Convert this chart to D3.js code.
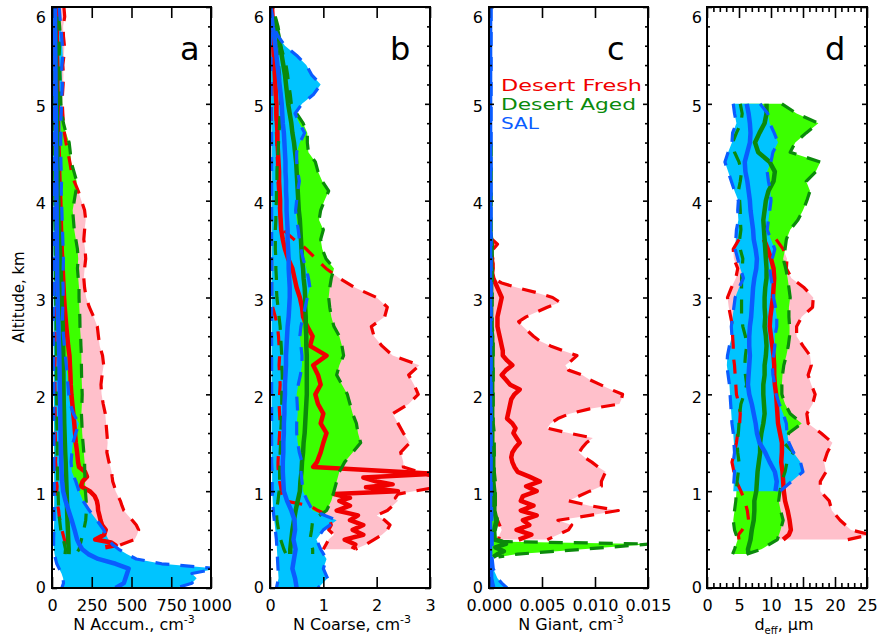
<!DOCTYPE html>
<html>
<head>
<meta charset="utf-8">
<script src="https://cdn.jsdelivr.net/npm/d3@7"></script>
<style>
  body { margin: 0; background: #fff; }
  svg { display: block; }
  text { font-family: "DejaVu Sans", "Liberation Sans", sans-serif; }
</style>
</head>
<body>
<svg id="chart" width="878" height="637"></svg>
<script>
// ---------------------------------------------------------------
// Vertical profiles (altitude, km) of aerosol properties for three
// air-mass types. For each type: lower bound, median, upper bound.
// ---------------------------------------------------------------

// ---- Panel a: accumulation-mode number concentration, cm^-3 ----
const accFreshAlt = [6.0,5.9,5.8,5.7,5.6,5.5,5.4,5.3,5.2,5.1,5.0,4.9,4.8,4.7,4.6,4.5,4.4,4.3,4.2,4.1,4.0,3.9,3.8,3.7,3.6,3.5,3.4,3.3,3.2,3.1,3.0,2.9,2.8,2.7,2.6,2.5,2.4,2.3,2.2,2.1,2.0,1.9,1.8,1.7,1.6,1.5,1.4,1.3,1.25,1.2,1.15,1.1,1.05,1.0,0.95,0.9,0.85,0.8,0.75,0.7,0.65,0.6,0.55,0.5,0.47,0.44,0.42];
const accFreshLo  = [12,10,14,12,10,12,14,12,10,12, 14,12,12,14,12,14,16,14,12,14, 16,14,12,14,16,14,12,14,16,14, 16,18,16,18,20,18,20,18,20,18, 20,18,20,22,20,22,24,22, 25,28,26,28,32,30,34,38,36,42,45,50,55,62,70,78,85,90,88];
const accFreshMed = [32,30,32,30,32,31,33,34,33,35, 36,37,38,38,40,42,44,45,47,49, 52,54,55,57,59,61,64,67,70,73, 76,80,85,90,96,102,110,113,116,118, 122,128,134,140,145,150,158,164, 170,208,220,192,182,238,268,282,288,290,298,305,315,338,328,272,372,400,335];
const accFreshHi  = [75,80,70,72,78,75,68,72,70,66, 65,68,72,78,88,100,112,122,140,165, 185,205,212,205,200,208,212,205,200,205, 215,235,262,285,292,300,318,325,315,308, 312,322,335,340,345,350,345,358, 368,375,378,382,392,400,415,430,440,452,478,505,530,545,535,520,470,420,390];

const agedAlt = [5.9,5.8,5.7,5.6,5.5,5.4,5.3,5.2,5.1,5.0,4.9,4.8,4.7,4.6,4.5,4.4,4.3,4.2,4.1,4.0,3.9,3.8,3.7,3.6,3.5,3.4,3.3,3.2,3.1,3.0,2.9,2.8,2.7,2.6,2.5,2.4,2.3,2.2,2.1,2.0,1.9,1.8,1.7,1.6,1.5,1.4,1.3,1.2,1.1,1.0,0.9,0.8,0.7,0.6,0.5,0.4,0.35];
const accAgedLo  = [8,10,9,10,11,10,12,11,12,13, 12,14,13,15,16,15,17,18,17,18, 19,18,20,21,20,22,21,22,24,23, 24,25,26,25,27,28,27,28,30,29, 30,31,30,32,33,32,34,35,36,38, 40,42,48,55,72,85,82];
const accAgedMed = [20,22,23,24,25,26,27,28,29,30, 31,32,33,34,35,36,37,38,39,40, 42,44,46,48,50,52,54,56,58,60, 62,65,68,69,70,71,71,72,72,73, 74,76,77,79,81,83,86,88,90,92, 94,95,97,100,102,105,104];
const accAgedHi  = [42,48,52,48,45,48,50,52,54,56, 62,72,88,108,115,120,138,155,150,140, 130,135,140,150,160,165,160,165,170,170, 172,175,176,180,182,185,185,186,188,190, 188,185,188,190,195,200,205,206,208,210, 215,216,212,200,185,170,150];

const accSalAlt = [6.0,5.9,5.8,5.7,5.6,5.5,5.4,5.3,5.2,5.1,5.0,4.9,4.8,4.7,4.6,4.5,4.4,4.3,4.2,4.1,4.0,3.9,3.8,3.7,3.6,3.5,3.4,3.3,3.2,3.1,3.0,2.9,2.8,2.7,2.6,2.5,2.4,2.3,2.2,2.1,2.0,1.9,1.8,1.7,1.6,1.5,1.4,1.3,1.2,1.1,1.0,0.9,0.8,0.7,0.6,0.5,0.45,0.4,0.35,0.3,0.25,0.2,0.15,0.1,0.05,0.0];
const accSalLo  = [3,4,3,4,5,4,5,4,5,6, 5,6,5,6,7,6,7,6,7,8, 7,8,7,8,9,8,9,8,9,10, 9,10,9,10,11,10,11,10,11,12, 11,12,11,12,13,12,13,12,13,14, 13,14,13,14,12,10, 10,12,16,22,30,45,60,70,72,62];
const accSalMed = [18,19,19,20,20,21,21,22,22,23, 23,24,24,25,25,26,26,27,27,28, 28,29,29,30,30,31,32,32,33,34, 35,36,38,40,42,44,46,47,48,49, 50,51,52,53,54,55,57,58,60,64, 70,85,104,124,142,158, 172,190,228,290,400,482,472,462,452,400];
const accSalHi  = [45,50,55,60,65,68,62,60,65,62, 60,58,55,56,55,55,56,58,60,58, 60,62,64,66,68,70,72,70,68,70, 70,68,66,68,72,78,84,90,96,100, 105,115,135,170,150,132,125,120,125,150, 170,195,235,282,325,355, 380,420,470,530,690,1040,880,910,880,780];

// ---- Panel b: coarse-mode number concentration, cm^-3 ----
const coaFreshAlt = [6.0,5.9,5.8,5.7,5.6,5.5,5.4,5.3,5.2,5.1,5.0,4.9,4.8,4.7,4.6,4.5,4.4,4.3,4.2,4.1,4.0,3.9,3.8,3.7,3.6,3.5,3.4,3.3,3.2,3.1,3.0,2.9,2.8,2.7,2.6,2.5,2.4,2.3,2.2,2.1,2.0,1.9,1.8,1.7,1.6,1.5,1.4,1.3,1.25,1.18,1.14,1.1,1.07,1.04,1.0,0.97,0.93,0.9,0.85,0.8,0.75,0.7,0.65,0.6,0.55,0.5,0.45,0.4];
const coaFreshLo  = [0.02,0.02,0.02,0.02,0.02,0.02,0.02,0.02,0.02,0.02, 0.02,0.02,0.02,0.02,0.02,0.02,0.02,0.02,0.02,0.02, 0.02,0.02,0.02,0.02,0.02,0.02,0.03,0.03,0.03,0.03, 0.03,0.05,0.1,0.14,0.16,0.17,0.18,0.17,0.18,0.19, 0.18,0.17,0.18,0.19,0.18,0.17,0.16,0.15, 0.15,0.16,0.17,0.18,0.19,0.2,0.21,0.22,0.24,0.26,0.75,0.9,1.1,1.12,1.15,1.1,1.2,1.1,1.05,1.0];
const coaFreshMed = [0.02,0.03,0.04,0.05,0.06,0.07,0.08,0.09,0.1,0.11, 0.12,0.12,0.13,0.14,0.14,0.15,0.16,0.17,0.17,0.18, 0.19,0.19,0.2,0.21,0.24,0.28,0.34,0.42,0.46,0.5, 0.56,0.6,0.62,0.7,0.8,0.75,1.06,0.81,0.9,0.95, 0.85,0.9,1.0,0.95,1.06,1.0,0.95,0.88, 0.81,3.1,1.75,2.0,2.3,1.8,2.4,1.2,1.5,1.3,1.5,1.25,1.65,1.5,1.75,1.55,1.75,1.4,1.6,1.55];
const coaFreshHi  = [0.05,0.06,0.06,0.07,0.08,0.08,0.09,0.09,0.1,0.1, 0.11,0.11,0.12,0.12,0.13,0.13,0.14,0.14,0.15,0.16, 0.17,0.18,0.2,0.24,0.45,0.68,0.86,1.05,1.3,1.6, 2.0,2.2,2.15,1.9,1.95,2.1,2.3,2.8,2.6,2.7, 2.78,2.6,2.3,2.4,2.5,2.62,2.45,2.5, 2.5,2.9,3.1,3.1,3.1,3.1,2.7,2.4,2.35,2.4,2.3,2.2,2.0,2.15,2.25,2.2,2.1,1.95,1.8,1.6];

const coaAgedLo  = [0.05,0.08,0.1,0.12,0.15,0.16,0.18,0.18,0.2,0.2, 0.19,0.18,0.17,0.16,0.15,0.14,0.13,0.13,0.12,0.12, 0.11,0.11,0.1,0.1,0.1,0.11,0.11,0.12,0.12,0.13, 0.15,0.17,0.19,0.2,0.21,0.22,0.22,0.23,0.23,0.22, 0.22,0.21,0.21,0.2,0.2,0.19,0.19,0.18,0.18,0.17, 0.15,0.12,0.13,0.16,0.2,0.26,0.3];
const coaAgedMed = [0.08,0.12,0.16,0.19,0.22,0.25,0.28,0.3,0.32,0.34, 0.37,0.4,0.42,0.45,0.47,0.49,0.5,0.51,0.52,0.53, 0.54,0.56,0.57,0.58,0.59,0.6,0.62,0.63,0.65,0.66, 0.66,0.67,0.67,0.68,0.68,0.69,0.69,0.69,0.69,0.69, 0.68,0.67,0.66,0.65,0.63,0.62,0.6,0.59,0.57,0.56, 0.52,0.48,0.45,0.42,0.4,0.38,0.38];
const coaAgedHi  = [0.1,0.15,0.18,0.2,0.25,0.3,0.33,0.35,0.38,0.4, 0.5,0.62,0.7,0.7,0.72,0.85,0.9,0.98,1.1,1.02, 0.95,0.92,1.0,0.95,0.98,1.05,1.2,1.15,1.12,1.1, 1.12,1.15,1.2,1.3,1.35,1.38,1.3,1.25,1.35,1.45, 1.5,1.55,1.62,1.65,1.7,1.55,1.4,1.3,1.25,1.2, 1.15,1.06,0.8,0.78,0.75,0.8,0.8];

const coaSalAlt = [6.0,5.9,5.8,5.7,5.6,5.5,5.4,5.3,5.2,5.1,5.0,4.9,4.8,4.7,4.6,4.5,4.4,4.3,4.2,4.1,4.0,3.9,3.8,3.7,3.6,3.5,3.4,3.3,3.2,3.1,3.0,2.9,2.8,2.7,2.6,2.5,2.4,2.3,2.2,2.1,2.0,1.9,1.8,1.7,1.6,1.5,1.4,1.3,1.2,1.1,1.0,0.9,0.8,0.7,0.6,0.5,0.4,0.3,0.2,0.1,0.0];
const coaSalLo  = [0,0,0.01,0.01,0.01,0.02,0.02,0.02,0.02,0.02, 0.02,0.02,0.02,0.03,0.03,0.03,0.03,0.03,0.03,0.03, 0.03,0.03,0.03,0.03,0.03,0.03,0.03,0.03,0.03,0.03, 0.03,0.03,0.03,0.03,0.03,0.03,0.03,0.03,0.03,0.03, 0.03,0.03,0.03,0.03,0.03,0.03,0.03,0.03,0.04,0.04, 0.04,0.05,0.06,0.08,0.1,0.12,0.13,0.14,0.15,0.16,0.12];
const coaSalMed = [0,0.03,0.05,0.08,0.1,0.12,0.14,0.16,0.18,0.2, 0.22,0.23,0.24,0.26,0.27,0.28,0.29,0.29,0.3,0.3, 0.31,0.31,0.32,0.33,0.33,0.34,0.35,0.35,0.36,0.37, 0.37,0.36,0.35,0.33,0.32,0.31,0.3,0.3,0.29,0.28, 0.28,0.27,0.27,0.26,0.26,0.25,0.25,0.24,0.24,0.25, 0.26,0.32,0.4,0.46,0.47,0.44,0.48,0.45,0.42,0.47,0.5];
const coaSalHi  = [0.02,0.04,0.06,0.15,0.28,0.5,0.68,0.78,0.95,0.82, 0.6,0.47,0.55,0.65,0.56,0.5,0.5,0.52,0.55,0.52, 0.5,0.48,0.5,0.53,0.55,0.58,0.62,0.68,0.72,0.75, 0.7,0.66,0.62,0.58,0.56,0.58,0.6,0.6,0.57,0.53, 0.5,0.51,0.52,0.5,0.5,0.52,0.55,0.6,0.58,0.6, 0.62,0.7,0.8,1.25,1.0,0.87,0.95,1.06,1.0,1.08,0.9];

// ---- Panel c: giant-mode number concentration, cm^-3 ----
const gntFreshAlt = [3.6,3.55,3.5,3.45,3.4,3.35,3.3,3.25,3.2,3.15, 3.1,3.05,3.0,2.95,2.9,2.85,2.8,2.75,2.7,2.65, 2.6,2.55,2.5,2.45,2.4,2.35,2.3,2.25,2.2,2.15, 2.1,2.05,2.0,1.95,1.9,1.85,1.8,1.75,1.7,1.65, 1.6,1.55,1.5,1.45,1.4,1.35,1.3,1.25,1.2,1.15, 1.1,1.05,1.0,0.95,0.9,0.85,0.8,0.75,0.7,0.65, 0.6,0.55,0.5];
const gntFreshLo  = [0.0001,0.0001,0.0001,0.0001,0.0001,0.0001,0.0001,0.0001,0.0001,0.0001, 0.0001,0.0001,0.0001,0.0001,0.0001,0.0001,0.0001,0.0001,0.0001,0.0001, 0.0001,0.0001,0.0001,0.0001,0.0001,0.0001,0.0001,0.0001,0.0001,0.0001, 0.0001,0.0001,0.0001,0.0001,0.0001,0.0001,0.0001,0.0001,0.0001,0.0001, 0.0001,0.0001,0.0001,0.0001,0.0001,0.0001,0.0001,0.0001,0.0001,0.0001, 0.0001,0.0001,0.0001,0.0001,0.0001,0.0003,0.0005,0.0006,0.0008,0.001, 0.0012,0.001,0.0009];
const gntFreshMed = [0.0002,0.0003,0.0002,0.0002,0.0003,0.0002,0.0003,0.0003,0.0004,0.0006, 0.0008,0.001,0.0012,0.0011,0.001,0.0009,0.0008,0.0008,0.0008,0.0009, 0.001,0.0011,0.0012,0.0013,0.0013,0.0017,0.0022,0.0016,0.0012,0.0016, 0.002,0.0029,0.0024,0.0021,0.002,0.0019,0.0018,0.0017,0.0022,0.0025, 0.0023,0.0026,0.0029,0.0025,0.0022,0.0021,0.0022,0.0024,0.0027,0.0038, 0.0048,0.0035,0.0045,0.0032,0.003,0.0042,0.003,0.0045,0.0032,0.0038, 0.0026,0.004,0.0028];
const gntFreshHi  = [0.0003,0.0008,0.0004,0.0003,0.0003,0.0004,0.0004,0.0003,0.0003,0.0012, 0.0027,0.0045,0.006,0.0067,0.0055,0.0045,0.0035,0.0028,0.0032,0.0037, 0.0042,0.0048,0.0058,0.007,0.0083,0.0078,0.0072,0.0075,0.0088,0.0095, 0.0105,0.0115,0.0126,0.0125,0.0123,0.0095,0.0076,0.0065,0.0058,0.0055, 0.0075,0.0098,0.0092,0.0088,0.0085,0.009,0.0097,0.0103,0.011,0.0108, 0.0106,0.0106,0.0095,0.0085,0.0075,0.0095,0.0122,0.0095,0.0065,0.0078, 0.0075,0.0065,0.0055];

const gntAgedAlt = [4.6,4.5,4.4,4.3,4.2,4.1,4.0,3.9,3.8,3.7, 3.6,3.5,3.4,3.3,3.2,3.1,3.0,2.9,2.8,2.7, 2.6,2.5,2.4,2.3,2.2,2.1,2.0,1.9,1.8,1.7, 1.6,1.5,1.4,1.3,1.2,1.1,1.0,0.9,0.8,0.7, 0.6,0.55,0.5,0.48,0.455,0.42,0.38,0.35,0.32];
const gntAgedLo  = [0.0001,0.0001,0.0001,0.0001,0.0001,0.0001,0.0001,0.0001,0.0001,0.0001, 0.0001,0.0001,0.0001,0.0001,0.0001,0.0001,0.0001,0.0001,0.0001,0.0001, 0.0001,0.0001,0.0001,0.0001,0.0001,0.0001,0.0001,0.0001,0.0001,0.0001, 0.0001,0.0001,0.0001,0.0001,0.0001,0.0001,0.0001,0.0001,0.0001,0.0001, 0.0001,0.0001,0.0001,0.0001,0.0001,0.0001,0.0001,0.0001,0.0001];
const gntAgedMed = [0.0001,0.0001,0.0001,0.0001,0.0001,0.0001,0.0001,0.0001,0.0001,0.0001, 0.0002,0.0002,0.0002,0.0002,0.0002,0.0002,0.0002,0.0002,0.0002,0.0002, 0.0003,0.0003,0.0003,0.0003,0.0003,0.0003,0.0003,0.0003,0.0003,0.0003, 0.0003,0.0003,0.0004,0.0004,0.0004,0.0004,0.0005,0.0005,0.0005,0.0007, 0.0005,0.0005,0.0005,0.0012,0.0016,0.0006,0.0014,0.0008,0.0004];
const gntAgedHi  = [0.0002,0.0002,0.0002,0.0002,0.0002,0.0002,0.0002,0.0002,0.0002,0.0002, 0.0003,0.0003,0.0003,0.0003,0.0003,0.0003,0.0003,0.0003,0.0003,0.0003, 0.0004,0.0004,0.0004,0.0004,0.0004,0.0004,0.0004,0.0004,0.0004,0.0004, 0.0005,0.0005,0.0005,0.0005,0.0005,0.0006,0.0006,0.0006,0.0006,0.0008, 0.0006,0.0007,0.0008,0.001,0.0153,0.0112,0.0064,0.0027,0.0009];

const gntSalAlt = [6.0,5.0,4.0,3.0,2.0,1.0,0.6,0.4,0.3,0.2,0.15,0.1,0.05,0.0];
const gntSalLo  = [0,0,0,0,0,0,0,0,0,0,0,0,0,0];
const gntSalMed = [0.0001,0.0001,0.0001,0.0001,0.0001,0.0001,0.0001,0.0001,0.0001,0.00015,0.0002,0.0002,0.0003,0.0004];
const gntSalHi  = [0.0002,0.0002,0.0002,0.0002,0.0002,0.0002,0.0003,0.0003,0.0003,0.0004,0.0006,0.0008,0.0012,0.0017];

// ---- Panel d: effective diameter, um ----
const deffFreshAlt = [3.6,3.5,3.4,3.3,3.2,3.1,3.0,2.9,2.8,2.7, 2.6,2.5,2.4,2.3,2.2,2.1,2.0,1.9,1.8,1.7, 1.6,1.5,1.4,1.3,1.2,1.1,1.0,0.9,0.8,0.7, 0.6,0.55,0.5];
const deffFreshLo  = [5.0,4.1,4.2,4.8,4.5,3.8,3.2,3.4,3.7,4.0, 4.0,4.1,4.1,4.3,4.4,4.5,4.6,5.0,5.2,5.1, 4.8,4.6,4.3,3.9,4.2,4.6,5.3,5.9,6.3,6.5, 5.5,4.9,5.0];
const deffFreshMed = [8.9,9.5,10.0,10.4,10.5,10.4,10.3,10.1,9.9,9.8, 10.0,10.2,10.4,10.5,10.5,10.6,10.8,10.9,11.0,11.1, 11.4,11.7,11.7,11.6,11.8,11.9,12.0,12.2,12.6,12.9, 13.1,12.8,11.9];
const deffFreshHi  = [10.8,11.9,12.5,12.4,13.2,15.2,16.6,16.5,14.8,14.0, 14.0,15.0,16.1,16.3,15.8,16.3,16.9,16.5,15.6,15.8, 17.8,19.6,18.8,18.3,18.6,17.7,17.7,19.1,19.5,20.8, 22.5,25.5,22.0];

const deffAgedAlt = [5.0,4.9,4.8,4.7,4.6,4.5,4.4,4.3,4.2,4.1, 4.0,3.9,3.8,3.7,3.6,3.5,3.4,3.3,3.2,3.1, 3.0,2.9,2.8,2.7,2.6,2.5,2.4,2.3,2.2,2.1, 2.0,1.9,1.8,1.7,1.6,1.5,1.4,1.3,1.2,1.1, 1.0,0.9,0.8,0.7,0.6,0.5,0.4,0.35];
const deffAgedLo  = [5.2,5.5,5.3,4.6,4.0,4.3,5.0,5.4,5.2,4.9, 5.1,5.2,5.2,5.3,5.1,5.2,5.6,5.5,5.4,5.4, 5.4,5.4,5.4,5.6,6.0,6.2,6.0,5.9,6.0,6.2, 5.8,5.3,5.1,5.0,4.9,4.7,4.8,5.0,4.9,4.7, 4.6,4.5,4.3,4.1,4.3,4.8,4.3,4.0];
const deffAgedMed = [9.3,9.3,9.0,8.2,7.5,8.0,9.8,10.6,10.4,9.6, 9.2,9.0,8.8,8.9,9.0,9.1,9.2,9.3,9.3,9.1, 9.0,9.0,9.1,9.0,9.2,9.3,9.2,9.0,9.0,8.8, 8.8,8.9,9.0,8.8,8.5,8.3,8.3,8.1,7.9,7.8, 7.7,7.4,7.4,7.3,7.0,6.8,6.4,6.5];
const deffAgedHi  = [11.7,14.0,17.4,15.5,13.8,13.0,17.7,17.0,15.5,16.1, 15.6,15.0,14.2,13.0,12.4,12.2,11.9,12.3,12.6,12.8, 13.0,12.8,12.8,12.9,12.9,12.7,12.4,12.0,11.8,11.7, 11.7,12.2,13.0,14.8,12.8,12.0,13.5,12.5,12.2,11.7, 11.4,11.2,11.5,11.9,11.5,11.0,8.5,6.2];

const deffSalAlt = [5.0,4.9,4.8,4.7,4.6,4.5,4.4,4.3,4.2,4.1, 4.0,3.9,3.8,3.7,3.6,3.5,3.4,3.3,3.2,3.1, 3.0,2.9,2.8,2.7,2.6,2.5,2.4,2.3,2.2,2.1, 2.0,1.9,1.8,1.7,1.6,1.5,1.4,1.3,1.2,1.1, 1.0];
const deffSalLo  = [4.1,4.3,4.6,4.0,3.9,3.3,2.8,3.3,3.8,4.3, 4.9,4.8,4.9,4.6,4.5,4.4,4.8,5.2,5.7,5.0, 4.4,4.2,4.0,3.8,3.9,3.5,3.2,3.1,3.3,3.5, 3.6,3.7,3.8,3.9,4.1,4.2,4.3,4.1,4.3,4.2, 4.1];
const deffSalMed = [6.2,6.5,6.7,6.8,6.7,6.3,5.9,6.0,6.3,6.5, 6.7,6.8,7.0,7.2,7.3,7.6,7.8,7.7,7.4,7.2, 7.1,7.0,6.9,6.7,6.6,6.6,6.7,6.6,6.5,6.4, 6.6,7.0,7.3,7.6,7.8,8.2,9.1,9.8,10.6,10.9, 10.7];
const deffSalHi  = [8.3,9.5,9.8,10.5,11.1,10.3,10.0,9.4,9.6,9.9, 10.0,9.8,9.6,9.4,10.0,10.6,10.2,9.8,10.0,10.3, 10.4,10.7,10.9,10.9,10.6,10.6,10.4,10.2,10.3,10.6, 10.8,11.3,11.9,12.4,12.5,12.8,13.5,14.6,15.0,13.2, 11.4];

// ---- axis ticks and labels ----
const altTicks = [0,1,2,3,4,5,6];
const altMinorTicks = [0.2,0.4,0.6,0.8,1.2,1.4,1.6,1.8,2.2,2.4,2.6,2.8,3.2,3.4,3.6,3.8,4.2,4.4,4.6,4.8,5.2,5.4,5.6,5.8];
const accTicks = [0,250,500,750,1000];
const coaTicks = [0,1,2,3];
const gntTicks = [0,0.005,0.010,0.015];
const deffTicks = [0,5,10,15,20,25];
const deffMinorTicks = [1,2,3,4,6,7,8,9,11,12,13,14,16,17,18,19,21,22,23,24];
const legendNames = ["Desert Fresh","Desert Aged","SAL"];
const legendWidths = [141,135,38];

// ---- colours ----
const freshLine = "#f00000", freshFill = "#ffc0cb";
const agedLine  = "#0b8a0b", agedFill  = "#3cff00";
const salLine   = "#0a5cff", salFill   = "#00c4ff";

// ---------------------------------------------------------------
const svg = d3.select("#chart");
const plotTop = 7, plotBottom = 588;
const y = d3.scaleLinear().domain([0, 6]).range([plotBottom, plotTop]);

function group(alt, lo, med, hi, line, fill) {
  return { rows: alt.map((a, i) => ({ a, lo: lo[i], med: med[i], hi: hi[i] })), line, fill };
}

const panels = [
  { key: "a", left: 52, width: 159, max: 1000, ticks: accTicks, minor: [], fmt: d3.format("d"),
    letterX: 180, ylabGap: 6,
    groups: [
      group(accFreshAlt, accFreshLo, accFreshMed, accFreshHi, freshLine, freshFill),
      group(agedAlt, accAgedLo, accAgedMed, accAgedHi, agedLine, agedFill),
      group(accSalAlt, accSalLo, accSalMed, accSalHi, salLine, salFill)] },
  { key: "b", left: 270, width: 160, max: 3, ticks: coaTicks, minor: [], fmt: d3.format("d"),
    letterX: 390, ylabGap: 6,
    groups: [
      group(coaFreshAlt, coaFreshLo, coaFreshMed, coaFreshHi, freshLine, freshFill),
      group(agedAlt, coaAgedLo, coaAgedMed, coaAgedHi, agedLine, agedFill),
      group(coaSalAlt, coaSalLo, coaSalMed, coaSalHi, salLine, salFill)] },
  { key: "c", left: 489, width: 159, max: 0.015, ticks: gntTicks, minor: [], fmt: d3.format(".3f"),
    letterX: 607, ylabGap: 6,
    groups: [
      group(gntFreshAlt, gntFreshLo, gntFreshMed, gntFreshHi, freshLine, freshFill),
      group(gntAgedAlt, gntAgedLo, gntAgedMed, gntAgedHi, agedLine, agedFill),
      group(gntSalAlt, gntSalLo, gntSalMed, gntSalHi, salLine, salFill)] },
  { key: "d", left: 707, width: 160, max: 25, ticks: deffTicks, minor: deffMinorTicks, fmt: d3.format("d"),
    letterX: 825, ylabGap: 5,
    groups: [
      group(deffFreshAlt, deffFreshLo, deffFreshMed, deffFreshHi, freshLine, freshFill),
      group(deffAgedAlt, deffAgedLo, deffAgedMed, deffAgedHi, agedLine, agedFill),
      group(deffSalAlt, deffSalLo, deffSalMed, deffSalHi, salLine, salFill)] }
];

const defs = svg.append("defs");

panels.forEach(p => {
  const x = d3.scaleLinear().domain([0, p.max]).range([p.left, p.left + p.width]);
  const g = svg.append("g").attr("class", "panel-" + p.key);

  defs.append("clipPath").attr("id", "clip-" + p.key)
    .append("rect")
    .attr("x", p.left).attr("y", plotTop)
    .attr("width", p.width).attr("height", plotBottom - plotTop);

  const plot = g.append("g").attr("clip-path", `url(#clip-${p.key})`);

  // shaded ranges between the lower and upper bounds
  const area = d3.area().y(d => y(d.a)).x0(d => x(d.lo)).x1(d => x(d.hi));
  p.groups.forEach(s => {
    plot.append("path").datum(s.rows).attr("d", area).attr("fill", s.fill);
  });

  // bounds (dashed) and medians (solid)
  p.groups.forEach(s => {
    ["lo", "hi"].forEach(k => {
      plot.append("path").datum(s.rows)
        .attr("d", d3.line().x(d => x(d[k])).y(d => y(d.a)))
        .attr("fill", "none").attr("stroke", s.line)
        .attr("stroke-width", 3.2).attr("stroke-dasharray", "14,11")
        .attr("stroke-linejoin", "round");
    });
    plot.append("path").datum(s.rows)
      .attr("d", d3.line().x(d => x(d.med)).y(d => y(d.a)))
      .attr("fill", "none").attr("stroke", s.line)
      .attr("stroke-width", 4.5).attr("stroke-linejoin", "round");
  });

  // axes
  const tickStyle = sel => {
    sel.select(".domain").remove();
    sel.selectAll(".tick line").attr("stroke", "#000").attr("stroke-width", 1.6);
    sel.selectAll("text").attr("fill", "#000").attr("font-size", 16)
      .attr("font-family", "DejaVu Sans, Liberation Sans, sans-serif");
  };

  g.append("g").attr("transform", `translate(0,${plotBottom})`)
    .call(d3.axisBottom(x).tickValues(p.ticks).tickFormat(p.fmt)
      .tickSizeInner(-11).tickSizeOuter(0).tickPadding(12))
    .call(tickStyle);
  g.append("g").attr("transform", `translate(0,${plotTop})`)
    .call(d3.axisTop(x).tickValues(p.ticks).tickFormat("")
      .tickSizeInner(-11).tickSizeOuter(0))
    .call(tickStyle);
  if (p.minor.length) {
    g.append("g").attr("transform", `translate(0,${plotBottom})`)
      .call(d3.axisBottom(x).tickValues(p.minor).tickFormat("")
        .tickSizeInner(-5).tickSizeOuter(0))
      .call(tickStyle);
    g.append("g").attr("transform", `translate(0,${plotTop})`)
      .call(d3.axisTop(x).tickValues(p.minor).tickFormat("")
        .tickSizeInner(-5).tickSizeOuter(0))
      .call(tickStyle);
  }

  const yl = g.append("g").attr("transform", `translate(${p.left},0)`)
    .call(d3.axisLeft(y).tickValues(altTicks).tickFormat(d3.format("d"))
      .tickSizeInner(-5).tickSizeOuter(0).tickPadding(p.ylabGap))
    .call(tickStyle);
  yl.selectAll("text").attr("dy", null)
    .attr("y", d => d === 0 ? 4 : d === 6 ? 15 : 8);

  g.append("g").attr("transform", `translate(${p.left + p.width},0)`)
    .call(d3.axisRight(y).tickValues(altTicks).tickFormat("")
      .tickSizeInner(-5).tickSizeOuter(0))
    .call(tickStyle);

  // short minor altitude ticks on both sides
  g.append("g").attr("transform", `translate(${p.left},0)`)
    .call(d3.axisLeft(y).tickValues(altMinorTicks).tickFormat("")
      .tickSizeInner(-3).tickSizeOuter(0))
    .call(tickStyle);
  g.append("g").attr("transform", `translate(${p.left + p.width},0)`)
    .call(d3.axisRight(y).tickValues(altMinorTicks).tickFormat("")
      .tickSizeInner(-3).tickSizeOuter(0))
    .call(tickStyle);

  // frame
  g.append("rect")
    .attr("x", p.left).attr("y", plotTop)
    .attr("width", p.width).attr("height", plotBottom - plotTop)
    .attr("fill", "none").attr("stroke", "#000").attr("stroke-width", 2);

  // panel letter
  g.append("text").attr("x", p.letterX).attr("y", 60)
    .attr("font-size", 32).attr("fill", "#000").text(p.key);
});

// x-axis titles
function axisTitle(cx, main) {
  const t = svg.append("text").attr("x", cx).attr("y", 630)
    .attr("text-anchor", "middle").attr("font-size", 16).attr("fill", "#000");
  t.append("tspan").text(main + ", cm");
  t.append("tspan").attr("dy", -7).attr("font-size", 11).text("-3");
}
axisTitle(134, "N Accum.");
axisTitle(352, "N Coarse");
axisTitle(571, "N Giant");

const dTitle = svg.append("text").attr("x", 784).attr("y", 630)
  .attr("text-anchor", "middle").attr("font-size", 16).attr("fill", "#000");
dTitle.append("tspan").text("d");
dTitle.append("tspan").attr("dy", 4).attr("font-size", 10).text("eff");
dTitle.append("tspan").attr("dy", -4).text(", μm");

// y-axis title
svg.append("text")
  .attr("transform", "translate(24,297) rotate(-90)")
  .attr("text-anchor", "middle").attr("font-size", 15).attr("fill", "#000")
  .text("Altitude, km");

// legend
const legendColors = [freshLine, agedLine, salLine];
svg.append("g").selectAll("text").data(legendNames).join("text")
  .attr("x", 501).attr("y", (d, i) => 91 + i * 19)
  .attr("font-size", 16)
  .attr("textLength", (d, i) => legendWidths[i])
  .attr("lengthAdjust", "spacingAndGlyphs")
  .attr("fill", (d, i) => legendColors[i])
  .text(d => d);
</script>
</body>
</html>
